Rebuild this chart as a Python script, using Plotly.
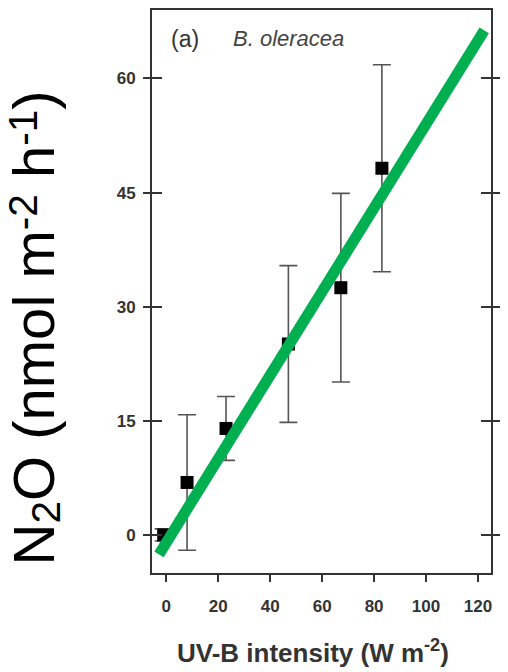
import plotly.graph_objects as go

# UV-B intensity (W m-2) and mean N2O flux with standard error
uvb = [-1, 8, 23, 47, 67.2, 83]
n2o = [0.0, 6.9, 14.0, 25.1, 32.5, 48.2]
n2o_err = [0.8, 8.9, 4.2, 10.3, 12.4, 13.6]

# Linear regression line: y = slope * x + intercept over the drawn x span
fit_slope = 0.55
fit_intercept = -1.0
fit_x = [-2.8, 122.4]

x_ticks = [0, 20, 40, 60, 80, 100, 120]
y_ticks = [0, 15, 30, 45, 60]
x_range = [-5.5, 125]
y_range = [-5, 69]

FONT = "Liberation Sans, Arial, sans-serif"
AXIS_COLOR = "#333333"

fit_y = [fit_slope * v + fit_intercept for v in fit_x]

fig = go.Figure()

fig.add_trace(go.Scatter(
    x=uvb, y=n2o, mode="markers",
    marker=dict(symbol="square", size=13, color="black"),
    error_y=dict(type="data", array=n2o_err, visible=True,
                 color="#555555", thickness=1.6, width=9),
    showlegend=False,
))

fig.add_trace(go.Scatter(
    x=fit_x, y=fit_y, mode="lines",
    line=dict(color="#00b050", width=11),
    showlegend=False,
))

fig.update_layout(
    width=508, height=672,
    margin=dict(l=152, r=9, t=8, b=99),
    paper_bgcolor="white", plot_bgcolor="white",
    font=dict(family=FONT, color=AXIS_COLOR),
    xaxis=dict(
        range=x_range, tickvals=x_ticks,
        ticks="outside", ticklen=7, tickwidth=1.6, tickcolor=AXIS_COLOR,
        showline=True, linewidth=2, linecolor=AXIS_COLOR, mirror=True,
        showgrid=False, zeroline=False,
        tickfont=dict(size=17, weight="bold", color="#333333"),
        ticklabelstandoff=10,
    ),
    yaxis=dict(
        range=y_range, tickvals=y_ticks,
        ticks="outside", ticklen=7, tickwidth=1.6, tickcolor=AXIS_COLOR,
        showline=True, linewidth=2, linecolor=AXIS_COLOR, mirror="ticks",
        showgrid=False, zeroline=False,
        tickfont=dict(size=17, weight="bold", color="#333333"),
        ticklabelstandoff=4,
    ),
    # inner half of the crossing tick marks on both vertical edges
    yaxis2=dict(
        range=y_range, tickvals=y_ticks, overlaying="y", anchor="x",
        ticks="inside", ticklen=10, tickwidth=1.6, tickcolor=AXIS_COLOR,
        showline=False, mirror="ticks", showticklabels=False,
        showgrid=False, zeroline=False,
    ),
)

# empty trace so the overlay axis is laid out
fig.add_trace(go.Scatter(x=[None], y=[None], yaxis="y2", showlegend=False,
                         hoverinfo="skip"))

# exponents sit only slightly above the baseline, as in the printed label
SUP = '<span style="font-size:70%;baseline-shift:42%">'
SUB = '<span style="font-size:70%;baseline-shift:-14%">'
y_title = ("N" + SUB + "2</span>O (nmol m" + SUP + "-2</span> h"
           + SUP + "-1</span>)")

fig.add_annotation(
    text=y_title,
    xref="paper", yref="paper", x=-0.347, y=0.435,
    xanchor="center", yanchor="middle", textangle=-90, showarrow=False,
    font=dict(family=FONT, size=58, color="black"),
)
fig.add_annotation(
    text="<b>UV-B intensity (W m<sup>-2</sup>)</b>",
    xref="paper", yref="paper", x=0.475, y=-0.14,
    xanchor="center", yanchor="middle", showarrow=False,
    font=dict(family=FONT, size=26, color="#333333"),
)
fig.add_annotation(
    text="(a)", xref="paper", yref="paper", x=0.098, y=0.948,
    xanchor="center", yanchor="middle", showarrow=False,
    font=dict(family=FONT, size=23, color="#333333"),
)
fig.add_annotation(
    text="<i>B. oleracea</i>", xref="paper", yref="paper", x=0.233, y=0.950,
    xanchor="left", yanchor="middle", showarrow=False,
    font=dict(family=FONT, size=22, color="#444444"),
)

fig.write_html("out.html")
